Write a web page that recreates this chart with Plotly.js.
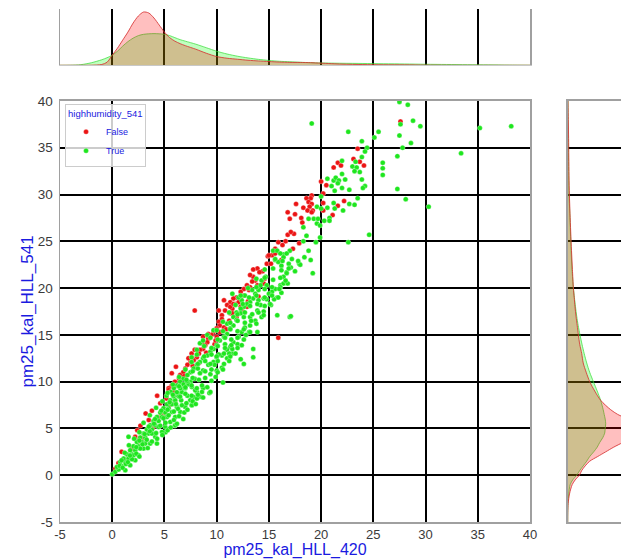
<!DOCTYPE html>
<html>
<head>
<meta charset="utf-8">
<script src="https://cdn.plot.ly/plotly-3.0.1.min.js"></script>
<style>html,body{margin:0;padding:0;background:#fff;}#chart{width:621px;height:559px;}</style>
</head>
<body>
<div id="chart"></div>
<script>
// ---- scatter data: highhumidity_541 == False (red) ----
const falseX = [
27.6,23.5,23.1,23.7,24.1,21.6,21.9,21.2,20.0,20.5,
20.2,19.1,19.0,18.6,18.8,19.1,18.9,19.2,18.7,19.1,
18.3,17.6,16.8,17.5,17.0,18.1,18.2,20.2,21.6,22.2,
21.1,17.9,17.4,16.8,17.1,16.6,15.9,15.6,15.3,14.9,
13.9,13.5,14.4,15.9,7.9,15.5,15.6,15.0,14.8,15.2,
14.1,13.5,13.2,13.7,13.4,13.9,13.2,12.9,12.6,13.1,
12.3,12.6,11.9,11.6,11.8,11.3,11.0,11.5,10.8,11.3,
10.7,10.2,10.5,11.3,11.6,12.1,12.3,11.5,10.5,10.2,
10.3,10.0,9.7,9.5,9.2,9.1,8.9,8.7,8.4,8.3,
8.1,7.8,7.5,7.2,7.0,6.8,6.5,6.4,6.0,5.7,
5.4,6.1,5.7,7.6,7.3,7.9,8.6,8.7,9.2,10.0,
10.3,10.7,4.3,3.2,2.7,2.4,2.2,0.9,4.6,5.2,
5.9,6.0,5.4,6.2,4.9,3.8,4.4,3.5,2.5,1.9,
1.6,0.6,0.3,20.2,9.8,11.2,12.5,13.0,14.5,16.3,
2.0,3.0,3.5,4.0,1.2,2.8,4.8,5.5,
9.0,9.9,10.9,11.9,12.9,14.0,6.9,7.7,8.3,3.9,
4.7,5.9,16.2,17.3,14.6
];
const falseY = [
37.8,34.9,33.8,33.5,33.1,33.4,33.1,32.9,31.4,31.0,
30.1,29.9,29.6,29.6,29.2,29.0,28.7,28.3,28.3,28.1,
28.6,29.0,28.1,27.9,27.4,27.5,27.0,29.1,28.8,29.3,
27.8,24.8,25.8,25.7,26.0,25.0,24.9,24.2,23.5,23.4,
22.1,22.0,21.8,14.7,17.6,23.9,23.7,23.5,22.6,22.6,
21.7,21.2,21.4,20.8,20.7,20.3,20.1,20.3,19.9,19.8,
19.6,19.2,19.0,18.9,18.3,18.5,18.2,17.8,17.6,17.3,
18.7,17.6,17.1,18.0,18.3,18.5,18.0,17.3,16.7,16.4,
16.0,15.7,15.3,15.0,14.6,14.2,13.9,13.5,13.4,13.0,
12.6,12.3,12.1,11.8,11.4,11.0,10.7,10.3,10.0,9.6,
9.3,11.6,10.9,13.0,12.5,13.4,14.1,14.8,15.1,14.8,
15.3,15.8,8.5,6.6,5.3,4.8,4.1,2.5,7.7,8.2,
8.5,7.8,9.1,9.6,7.1,6.9,6.2,5.9,3.7,3.0,
2.0,1.3,0.7,28.3,14.0,16.5,17.5,18.6,20.5,24.6,
2.8,4.0,4.8,5.5,1.6,3.5,6.5,7.5,
13.1,14.4,15.6,16.9,18.0,19.1,10.6,11.7,12.0,5.1,
6.6,8.9,23.0,24.2,21.0
];

// ---- scatter data: highhumidity_541 == True (green) ----
const trueX = [
27.5,28.3,27.6,28.8,29.5,25.5,25.1,27.5,28.6,27.8,
35.2,38.2,27.3,33.4,25.9,25.9,25.9,27.3,28.1,30.3,
19.1,22.6,23.9,24.4,24.2,23.9,23.3,23.0,23.4,22.0,
23.2,23.7,22.0,20.6,21.2,21.4,21.7,21.6,22.3,23.9,
24.2,24.0,21.0,22.0,21.3,22.7,24.6,22.6,20.0,18.3,
18.8,19.3,19.6,19.7,19.6,20.0,20.6,21.2,22.7,23.2,
23.5,22.1,21.3,20.8,20.8,20.3,19.9,19.9,19.5,19.2,
18.6,18.3,16.4,17.0,15.4,17.9,18.4,17.1,16.2,
15.8,16.1,15.6,15.9,16.4,16.7,16.9,16.7,16.4,16.1,
15.6,15.3,15.8,14.8,14.7,14.3,14.2,14.0,13.7,13.5,
13.2,12.9,12.6,12.3,11.9,11.6,12.4,12.7,13.4,12.1,
11.5,14.5,14.2,13.9,14.0,15.0,17.0,15.8,14.3,13.2,
17.1,13.5,13.5,12.3,12.6,10.6,9.3,16.4,16.1,14.8,
13.9,13.1,6.0,5.1,7.6,8.4,10.0,9.4,16.7,
12.3,12.6,11.9,11.6,11.3,11.0,10.7,10.3,10.0,9.7,
9.4,9.1,8.7,8.4,8.1,7.8,7.5,7.2,6.8,6.5,
6.2,5.9,5.6,5.2,12.7,12.4,12.1,11.6,11.3,11.0,
10.5,10.0,9.7,9.2,8.7,8.4,7.9,7.5,7.0,6.7,
6.4,7.2,8.1,8.7,9.4,11.5,8.4,8.1,7.6,8.7,
9.1,9.7,11.0,
0.0,0.29,0.61,0.45,0.93,0.77,1.25,1.09,1.56,1.40,
1.88,1.72,2.20,2.04,2.52,2.36,2.84,2.68,3.16,3.00,
3.48,3.32,3.80,3.64,4.12,3.96,4.44,4.28,4.76,4.60,
5.08,4.92,5.40,5.24,5.72,5.56,6.03,5.87,6.35,6.19,
6.67,6.51,6.99,6.83,7.31,7.15,7.63,7.95,7.79,7.47,
6.99,6.51,6.03,5.56,5.08,4.76,4.12,3.64,3.00,2.52,
2.20,1.72,1.25,4.28,6.03,6.67,7.63,8.11,8.59,1.56,
3.80,4.44,5.24,5.72,6.19,3.16,2.68,2.04,
11.0,10.5,11.5,12.0,9.8,10.2,11.2,10.8,12.8,13.2,
13.7,14.5,15.2,15.5,16.2,16.8,17.5,18.0,18.8,19.0,
0.7,1.0,1.3,0.9,1.5,1.9,1.2,1.7,2.3,2.6,
1.6,2.3,2.9,3.4,2.1,2.6,3.3,3.8,4.3,2.6,
3.1,3.6,4.2,4.8,5.3,3.0,3.5,4.0,4.6,5.1,
5.6,6.2,3.6,4.1,4.9,5.4,5.9,6.4,6.8,4.2,
4.7,5.3,5.9,6.3,6.9,7.2,4.8,5.5,6.1,6.6,
7.1,7.7,8.0,5.3,5.8,6.5,7.0,7.6,8.2,8.7,
5.8,6.4,7.0,7.6,8.1,8.6,9.1,6.4,7.1,7.7,
8.3,8.9,9.5,9.9,7.0,7.7,8.2,8.9,9.5,10.1,
10.6,7.6,8.2,8.9,9.4,10.1,10.7,11.2,8.1,8.8,
9.5,10.0,10.7,11.3,11.8,8.8,9.5,10.1,10.8,11.4,
12.0,12.4,9.4,10.1,10.8,11.4,12.0,12.6,10.0,10.6,
11.3,12.0,12.6,13.2,10.6,11.3,12.0,12.7,13.3,13.8,
11.2,12.0,12.7,13.4,14.0,14.5,11.8,12.5,13.2,13.9,
14.6,15.1,12.3,13.1,13.8,14.6,15.3,15.9,13.0,13.8,
14.6,15.3,16.0,13.8,14.6,15.4,16.1,16.6,14.6,15.4,
16.2,16.9,15.6,16.3,17.2,17.8
];
const trueY = [
39.9,39.6,37.5,37.9,37.3,36.7,36.1,36.3,35.5,35.0,
37.1,37.3,34.1,34.4,33.4,32.8,32.1,30.6,29.5,28.7,
37.6,36.7,35.7,35.0,34.6,34.0,33.5,33.0,32.9,33.6,
32.5,32.4,32.2,31.7,31.5,31.8,31.5,31.2,31.6,31.6,
30.9,30.7,30.9,30.7,30.4,30.5,25.7,24.9,29.8,26.5,
27.4,27.4,26.9,27.4,28.7,28.5,28.6,29.1,29.0,28.9,
29.6,28.3,28.5,27.5,27.2,27.2,26.7,25.4,24.9,21.6,
25.6,25.0,23.6,24.0,24.0,22.6,23.3,22.2,22.4,
24.0,23.7,23.0,22.8,23.3,23.7,22.6,21.7,21.2,20.3,
19.9,19.6,19.0,20.3,21.2,20.8,20.3,19.8,19.4,18.9,
18.5,18.3,18.0,17.8,17.4,16.9,18.7,19.2,19.8,19.0,
19.4,18.9,18.2,17.6,18.7,19.4,16.9,17.1,16.9,16.9,
17.0,13.5,12.6,12.4,11.9,9.9,8.8,20.5,20.1,18.8,
15.3,15.3,5.3,4.6,7.5,8.4,11.2,10.8,21.6,
17.3,16.9,16.6,16.0,15.7,15.1,14.8,14.4,13.9,13.5,
13.2,12.8,12.5,12.1,11.8,11.4,11.0,10.7,10.3,10.0,
9.6,9.3,8.9,8.5,15.8,15.3,14.8,14.2,13.7,13.4,
12.8,12.6,12.1,11.8,11.2,10.9,10.3,10.0,9.6,9.3,
8.7,8.5,8.9,9.3,8.9,13.0,14.1,13.4,12.6,14.4,
15.0,15.5,16.2,
0.10,0.36,0.61,0.89,0.96,1.42,1.42,1.78,1.78,2.24,
2.24,2.67,2.67,3.10,3.10,3.56,3.56,4.02,4.02,4.45,
4.45,4.88,4.88,5.34,5.34,5.80,5.80,6.23,6.23,6.70,
6.70,7.16,7.16,7.59,7.59,8.01,8.01,8.44,8.44,8.87,
8.87,9.29,9.29,9.72,9.72,10.04,9.44,9.08,8.37,8.01,
7.30,6.77,6.23,5.70,5.16,4.63,4.10,3.38,2.85,2.14,
1.60,1.07,0.53,3.38,5.34,7.48,7.48,8.19,8.90,4.10,
4.45,5.16,6.23,6.77,7.30,3.38,2.85,2.14,
12.5,11.5,13.5,14.0,11.8,12.9,13.0,14.0,15.0,16.0,
16.5,17.5,18.2,18.8,19.5,20.5,21.8,22.5,24.0,23.0,
1.0,0.8,1.2,1.6,1.4,1.7,2.4,2.1,2.3,2.0,
3.2,3.0,3.3,2.9,3.9,3.7,3.8,3.6,3.9,4.6,
4.4,4.7,4.5,4.3,4.8,5.6,5.2,5.5,5.3,5.6,
5.1,5.5,6.4,6.0,6.1,6.4,5.9,6.3,6.0,7.2,
6.9,7.0,6.8,7.1,6.7,7.0,7.9,7.8,7.6,8.0,
7.7,7.9,7.6,8.8,8.6,8.4,8.7,8.5,8.6,8.3,
9.7,9.5,9.4,9.6,9.3,9.6,9.4,10.5,10.2,10.4,
10.2,10.4,10.1,10.5,11.3,11.1,11.4,11.1,11.3,11.0,
11.3,12.1,11.9,12.2,11.9,12.2,11.9,12.2,12.9,12.7,
12.9,12.7,13.0,12.7,13.0,13.8,13.6,13.8,13.6,13.9,
13.6,13.9,14.7,14.5,14.7,14.5,14.7,14.5,15.5,15.4,
15.6,15.4,15.6,15.3,16.4,16.3,16.5,16.3,16.5,16.2,
17.4,17.2,17.4,17.2,17.4,17.1,18.2,18.3,18.1,18.3,
18.1,18.3,19.2,19.0,19.2,19.0,19.2,19.0,20.0,20.1,
19.9,20.1,19.9,21.0,21.1,20.9,21.1,20.8,22.0,22.1,
21.9,22.1,23.1,22.9,23.1,22.9
];

// ---- marginal density curves ----
const densGrid = [-5,-4,-3,-2,-1,-0.5,0,0.5,1,1.5,2,2.5,3,3.5,4,4.5,5,5.5,6,6.5,7,8,9,10,11,12,13,14,15,16,17,18,19,20,22,24,26,28,30,32,34,36,38,40];
const falseDensX = [0,0,0,0.0002,0.0016,0.006,0.020,0.034,0.050,0.066,0.084,0.098,0.106,0.104,0.094,0.080,0.066,0.055,0.048,0.043,0.039,0.032,0.024,0.0174,0.014,0.012,0.010,0.0086,0.0074,0.0064,0.0058,0.0056,0.0052,0.0042,0.0024,0.0014,0.001,0.0008,0.0004,0.0001,0,0,0,0];
const trueDensX  = [0,0.0002,0.0012,0.005,0.011,0.015,0.020,0.028,0.038,0.047,0.054,0.059,0.0616,0.0626,0.063,0.0626,0.0616,0.059,0.055,0.051,0.048,0.042,0.035,0.028,0.0224,0.018,0.0146,0.0118,0.0096,0.008,0.007,0.006,0.0052,0.0046,0.004,0.0036,0.003,0.0026,0.002,0.0016,0.0012,0.0008,0.0004,0.0001];
const falseDensY = [0,0.0002,0.001,0.0036,0.009,0.015,0.0234,0.028,0.035,0.044,0.060,0.076,0.092,0.110,0.124,0.134,0.138,0.134,0.120,0.100,0.086,0.066,0.054,0.044,0.037,0.031,0.028,0.024,0.0214,0.019,0.0166,0.0146,0.013,0.0114,0.0094,0.0076,0.006,0.0046,0.0034,0.0026,0.0022,0.0018,0.0012,0.0006];
const trueDensY  = [0,0.0001,0.0006,0.002,0.005,0.010,0.018,0.024,0.031,0.038,0.044,0.052,0.059,0.064,0.070,0.074,0.075,0.076,0.075,0.073,0.071,0.066,0.059,0.0514,0.044,0.038,0.033,0.0286,0.0246,0.021,0.018,0.0156,0.0134,0.0114,0.0086,0.0068,0.0054,0.0042,0.0026,0.002,0.0016,0.0012,0.0008,0.0006];

const ticks = [-5,0,5,10,15,20,25,30,35,40];
const groups = ['False','True'];
const hueTitle = 'highhumidity_541';
const xLabel = 'pm25_kal_HLL_420';
const yLabel = 'pm25_kal_HLL_541';

const RED = 'rgb(235,20,20)', GREEN = 'rgb(30,230,30)';
const BLUE = '#1a1ae0';

const traces = [
  {type:'scatter', mode:'markers', name:groups[0], x:falseX, y:falseY, xaxis:'x', yaxis:'y',
   marker:{color:RED, size:5, line:{color:'white', width:0.3}}},
  {type:'scatter', mode:'markers', name:groups[1], x:trueX, y:trueY, xaxis:'x', yaxis:'y',
   marker:{color:GREEN, size:5, line:{color:'white', width:0.3}}},
  // green density first, red on top (gives the tan overlap)
  {type:'scatter', mode:'lines', x:densGrid, y:trueDensX, xaxis:'x2', yaxis:'y2', fill:'tozeroy',
   fillcolor:'rgba(0,255,0,0.25)', line:{color:'rgba(60,220,60,0.75)', width:1, shape:'spline', smoothing:0.8}, showlegend:false, hoverinfo:'skip'},
  {type:'scatter', mode:'lines', x:densGrid, y:falseDensX, xaxis:'x2', yaxis:'y2', fill:'tozeroy',
   fillcolor:'rgba(255,0,0,0.25)', line:{color:'rgba(215,50,50,0.85)', width:1, shape:'spline', smoothing:0.8}, showlegend:false, hoverinfo:'skip'},
  {type:'scatter', mode:'lines', x:trueDensY, y:densGrid, xaxis:'x3', yaxis:'y3', fill:'tozerox',
   fillcolor:'rgba(0,255,0,0.25)', line:{color:'rgba(60,220,60,0.75)', width:1, shape:'spline', smoothing:0.8}, showlegend:false, hoverinfo:'skip'},
  {type:'scatter', mode:'lines', x:falseDensY, y:densGrid, xaxis:'x3', yaxis:'y3', fill:'tozerox',
   fillcolor:'rgba(255,0,0,0.25)', line:{color:'rgba(215,50,50,0.85)', width:1, shape:'spline', smoothing:0.8}, showlegend:false, hoverinfo:'skip'}
];

const gridAx = {showgrid:true, gridcolor:'black', gridwidth:2, zeroline:false, ticks:'',
  tickmode:'array', tickvals:ticks, ticktext:ticks.map(String)};

const layout = {
  width:621, height:559,
  margin:{l:60, r:0, t:9, b:37, pad:0},
  paper_bgcolor:'white', plot_bgcolor:'white',
  font:{family:'Liberation Sans, Arial, sans-serif', size:13.5, color:'#3a3a3a'},
  showlegend:true,
  legend:{x:0.009, y:0.815, xanchor:'left', yanchor:'top',
    bgcolor:'rgba(255,255,255,0.8)', bordercolor:'#cccccc', borderwidth:1,
    font:{size:9, color:BLUE}, title:{text:hueTitle, font:{size:9.5, color:BLUE}},
    tracegroupgap:0},
  xaxis:Object.assign({}, gridAx, {domain:[0,0.8378], anchor:'y', range:[-5,40],
    showline:true, linecolor:'#a0a0a0', linewidth:1.5, mirror:true, ticklabelstandoff:0,
    tickfont:{size:13}, title:{text:xLabel, font:{size:16, color:BLUE}, standoff:3}}),
  yaxis:Object.assign({}, gridAx, {domain:[0,0.8207], anchor:'x', range:[-5,40],
    showline:true, linecolor:'#a0a0a0', linewidth:1.5, mirror:true, ticklabelstandoff:3,
    tickfont:{size:13.5}, title:{text:yLabel, font:{size:17, color:BLUE}, standoff:0}}),
  xaxis2:Object.assign({}, gridAx, {domain:[0,0.8378], anchor:'y2', range:[-5,40], matches:'x',
    showticklabels:false, showline:true, linecolor:'#c8c8c8', linewidth:1}),
  yaxis2:{domain:[0.8903,1], anchor:'x2', range:[0,0.112], showgrid:false, zeroline:false,
    showticklabels:false, ticks:'', showline:true, linecolor:'#a0a0a0', linewidth:1.5, mirror:true},
  xaxis3:{domain:[0.905,1], anchor:'y3', range:[0,0.1066], showgrid:false, zeroline:false,
    showticklabels:false, ticks:'', showline:true, linecolor:'#a0a0a0', linewidth:1.5, mirror:true},
  yaxis3:Object.assign({}, gridAx, {domain:[0,0.8207], anchor:'x3', range:[-5,40], matches:'y',
    showticklabels:false, showline:true, linecolor:'#a0a0a0', linewidth:1.5})
};

Plotly.newPlot('chart', traces, layout, {staticPlot:true, displayModeBar:false});
</script>
</body>
</html>
